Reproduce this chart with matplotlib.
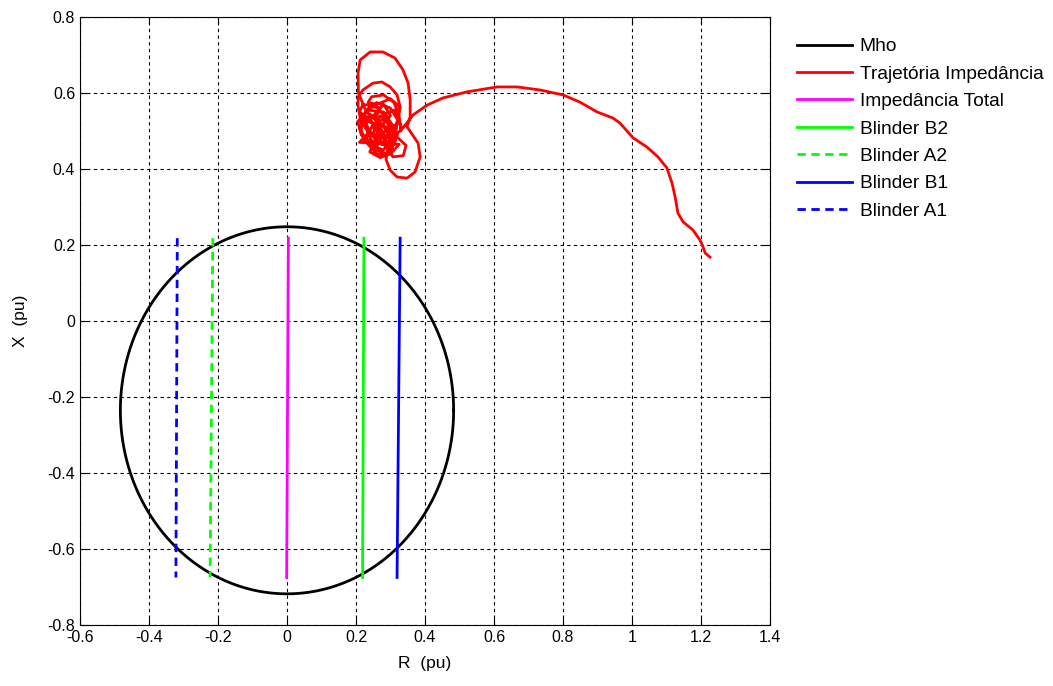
import numpy as np
import matplotlib
matplotlib.use("Agg")
import matplotlib.pyplot as plt

plt.rcParams['font.family'] = ['Liberation Sans', 'DejaVu Sans']
plt.rcParams['axes.unicode_minus'] = False

# Mho characteristic (circle in the R-X plane)
mho_center = (0.0, -0.235)
mho_radius = 0.483

# Blinders and total line impedance: (R_top, R_bottom) over X span
x_top, x_bottom = 0.218, -0.675
blinder_b2 = (0.223, 0.219)
blinder_a2 = (-0.215, -0.223)
blinder_b1 = (0.328, 0.319)
blinder_a1 = (-0.318, -0.322)
total_imp = (0.004, -0.001)

# Apparent impedance trajectory seen by the relay
traj_r = [0.27, 0.24, 0.21, 0.22, 0.26, 0.29, 0.30, 0.28, 0.25, 0.215,
          0.205, 0.235, 0.28, 0.31, 0.31, 0.29, 0.255, 0.225, 0.21, 0.245,
          0.29, 0.32, 0.30, 0.265, 0.235, 0.225, 0.26, 0.30, 0.32, 0.315,
          0.28, 0.25, 0.27, 0.30, 0.29, 0.26, 0.24, 0.27, 0.30, 0.325,
          0.21, 0.24, 0.22, 0.25, 0.23, 0.26, 0.28, 0.25, 0.28, 0.30,
          0.27, 0.29, 0.31, 0.285, 0.26, 0.235, 0.215, 0.22, 0.24, 0.27,
          0.255, 0.28, 0.30, 0.275, 0.245, 0.225, 0.24, 0.265, 0.25, 0.27,
          0.295, 0.315, 0.30, 0.285, 0.31, 0.33,
          0.33, 0.325, 0.31, 0.28, 0.245, 0.235, 0.26, 0.30, 0.325, 0.32,
          0.29, 0.25, 0.215, 0.206, 0.206, 0.220, 0.249, 0.275, 0.299, 0.319,
          0.328, 0.322, 0.31, 0.319, 0.345, 0.337, 0.307, 0.29, 0.30, 0.27,
          0.23, 0.207, 0.206, 0.212, 0.241, 0.278, 0.313, 0.336, 0.351, 0.357,
          0.357, 0.348, 0.36, 0.380, 0.386, 0.371, 0.348, 0.319, 0.299, 0.287,
          0.292, 0.31, 0.336, 0.365, 0.406, 0.452, 0.522, 0.609, 0.667, 0.733,
          0.800, 0.849, 0.899, 0.945, 0.965, 1.003, 1.043, 1.075, 1.101, 1.116,
          1.125, 1.128, 1.133, 1.148, 1.177, 1.197, 1.206, 1.212, 1.226]
traj_x = [0.50, 0.53, 0.55, 0.57, 0.565, 0.53, 0.48, 0.45, 0.46, 0.49,
          0.525, 0.555, 0.55, 0.51, 0.465, 0.44, 0.45, 0.475, 0.51, 0.535,
          0.525, 0.49, 0.455, 0.47, 0.50, 0.545, 0.575, 0.56, 0.53, 0.49,
          0.48, 0.51, 0.54, 0.52, 0.49, 0.485, 0.445, 0.43, 0.44, 0.465,
          0.47, 0.50, 0.53, 0.52, 0.48, 0.46, 0.49, 0.54, 0.57, 0.54,
          0.51, 0.47, 0.45, 0.435, 0.44, 0.465, 0.50, 0.54, 0.565, 0.56,
          0.53, 0.515, 0.50, 0.465, 0.475, 0.515, 0.545, 0.525, 0.495, 0.475,
          0.455, 0.475, 0.51, 0.545, 0.555, 0.515,
          0.50, 0.54, 0.575, 0.595, 0.59, 0.575, 0.57, 0.585, 0.565, 0.52,
          0.50, 0.49, 0.52, 0.565, 0.589, 0.608, 0.626, 0.629, 0.616, 0.595,
          0.563, 0.529, 0.50, 0.484, 0.462, 0.435, 0.432, 0.455, 0.49, 0.52,
          0.55, 0.60, 0.653, 0.687, 0.708, 0.708, 0.692, 0.661, 0.626, 0.582,
          0.537, 0.511, 0.495, 0.468, 0.432, 0.392, 0.376, 0.379, 0.397, 0.425,
          0.455, 0.485, 0.508, 0.542, 0.568, 0.587, 0.603, 0.616, 0.616, 0.608,
          0.595, 0.576, 0.550, 0.534, 0.521, 0.482, 0.458, 0.432, 0.403, 0.363,
          0.326, 0.311, 0.284, 0.261, 0.239, 0.213, 0.195, 0.179, 0.168]

x_ticks = [-0.6, -0.4, -0.2, 0, 0.2, 0.4, 0.6, 0.8, 1, 1.2, 1.4]
x_tick_labels = ['-0.6', '-0.4', '-0.2', '0', '0.2', '0.4', '0.6', '0.8', '1', '1.2', '1.4']
y_ticks = [-0.8, -0.6, -0.4, -0.2, 0, 0.2, 0.4, 0.6, 0.8]
y_tick_labels = ['-0.8', '-0.6', '-0.4', '-0.2', '0', '0.2', '0.4', '0.6', '0.8']

fig = plt.figure(figsize=(10.53, 6.86), dpi=100)
ax = fig.add_axes([80 / 1053, 1 - 625 / 686, 690 / 1053, 608 / 686])

lw = 2.0
t = np.linspace(0, 2 * np.pi, 361)
ax.plot(mho_center[0] + mho_radius * np.cos(t), mho_center[1] + mho_radius * np.sin(t),
        color='black', lw=lw, label='Mho')
ax.plot(traj_r, traj_x, color='red', lw=lw, label='Trajetória Impedância')
ax.plot(total_imp, [x_top, x_bottom], color='magenta', lw=lw, label='Impedância Total')
ax.plot(blinder_b2, [x_top, x_bottom], color=(0, 1, 0), lw=lw, label='Blinder B2')
ax.plot(blinder_a2, [x_top, x_bottom], color=(0, 1, 0), lw=lw, ls=(0, (3, 2)), label='Blinder A2')
ax.plot(blinder_b1, [x_top, x_bottom], color='blue', lw=lw, label='Blinder B1')
ax.plot(blinder_a1, [x_top, x_bottom], color='blue', lw=lw, ls=(0, (3, 2)), label='Blinder A1')

ax.set_xlim(-0.6, 1.4)
ax.set_ylim(-0.8, 0.8)
ax.set_xticks(x_ticks)
ax.set_xticklabels(x_tick_labels)
ax.set_yticks(y_ticks)
ax.set_yticklabels(y_tick_labels)
ax.tick_params(direction='in', top=True, right=True, length=5, width=0.8,
               labelsize=11.5, colors='black')
for s in ax.spines.values():
    s.set_linewidth(0.8)
ax.grid(True, color='black', ls=(0, (3, 3)), lw=0.8)
ax.set_axisbelow(True)

ax.set_xlabel('R  (pu)', fontsize=12.5, labelpad=8)
ax.set_ylabel('X  (pu)', fontsize=12.5, labelpad=14)

fig.legend(loc='upper left', bbox_to_anchor=(797 / 1053, 1 - 38 / 686),
           frameon=False, fontsize=13.8, handlelength=2.86, handletextpad=0.42,
           labelspacing=0.52, borderpad=0, borderaxespad=0)

fig.savefig('out.png', dpi=100, facecolor='white')
